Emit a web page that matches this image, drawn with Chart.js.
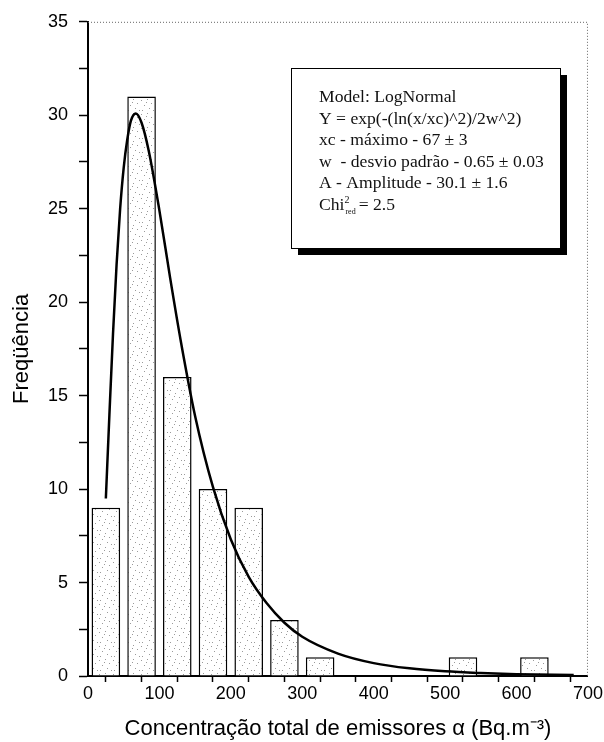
<!DOCTYPE html>
<html>
<head>
<meta charset="utf-8">
<script src="https://cdn.jsdelivr.net/npm/chart.js@4.4.0/dist/chart.umd.min.js"></script>
<style>
  body { margin: 0; background: #fff; }
</style>
</head>
<body>
<canvas id="myChart" width="604" height="742"></canvas>
<script>
// histogram bins (centre of each 50-wide class) and counts
const binCenters = [25, 75, 125, 175, 225, 275, 325, 525, 625];
const counts = [9, 31, 16, 10, 9, 3, 1, 1, 1];

// LogNormal fit curve
const fitX = [25, 30, 35, 40, 45, 50, 55, 60, 67, 75, 85, 100, 115, 130, 150, 175, 200, 225, 250, 275, 300, 350, 400, 450, 500, 550, 600, 680];
const fitY = [9.5, 14.0, 18.3, 22.0, 25.0, 27.2, 28.7, 29.7, 30.1, 29.6, 28.1, 24.9, 21.3, 17.9, 13.9, 10.1, 7.3, 5.3, 3.9, 2.85, 2.1, 1.2, 0.69, 0.41, 0.25, 0.16, 0.1, 0.05];

const boxLines = [
  'Model: LogNormal',
  'Y = exp(-(ln(x/xc)^2)/2w^2)',
  'xc - máximo - 67 ± 3',
  'w  - desvio padrão - 0.65 ± 0.03',
  'A - Amplitude - 30.1 ± 1.6'
];

// stipple fill for the bars
function makeStipple() {
  let c = document.createElement('canvas');
  c.width = 14; c.height = 14;
  let g = c.getContext('2d');
  g.fillStyle = '#fff';
  g.fillRect(0, 0, 14, 14);
  g.fillStyle = '#9a9a9a';
  [[1, 2], [7, 1], [11, 5], [4, 7], [9, 10], [2, 12], [13, 12], [6, 4]].forEach(function(p) {
    g.fillRect(p[0], p[1], 1, 1);
  });
  return g.createPattern(c, 'repeat');
}

const framePlugin = {
  id: 'frame',
  afterDraw(chart) {
    const ctx = chart.ctx;
    const a = chart.chartArea;
    ctx.save();
    ctx.strokeStyle = '#666';
    ctx.lineWidth = 1;
    ctx.setLineDash([1, 2]);
    ctx.beginPath();
    ctx.moveTo(a.left, a.top + 0.5);
    ctx.lineTo(a.right - 0.5, a.top + 0.5);
    ctx.lineTo(a.right - 0.5, a.bottom);
    ctx.stroke();
    ctx.restore();
  }
};

// text drawn a bit wider than the font, like the scanned original
function wideText(ctx, t, x, y) {
  ctx.save();
  ctx.translate(x, y);
  ctx.scale(1.1, 1);
  ctx.fillText(t, 0, 0);
  ctx.restore();
  return ctx.measureText(t).width * 1.1;
}

const boxPlugin = {
  id: 'fitbox',
  afterDatasetsDraw(chart) {
    const ctx = chart.ctx;
    const left = 291, top = 68, w = 269, h = 180;
    ctx.save();
    ctx.fillStyle = '#000';
    ctx.fillRect(left + 7, top + 7, w, h);
    ctx.fillStyle = '#fff';
    ctx.fillRect(left, top, w, h);
    ctx.strokeStyle = '#000';
    ctx.lineWidth = 1;
    ctx.strokeRect(left + 0.5, top + 0.5, w, h);

    ctx.fillStyle = '#111';
    ctx.font = '16px "Liberation Serif"';
    ctx.textBaseline = 'alphabetic';
    let y = top + 34;
    boxLines.forEach(function(t) {
      wideText(ctx, t, left + 28, y);
      y += 21.6;
    });
    // Chi^2_red = 2.5
    let x = left + 28;
    x += wideText(ctx, 'Chi', x, y);
    ctx.font = '10px "Liberation Serif"';
    ctx.fillText('2', x, y - 7);
    ctx.font = '8px "Liberation Serif"';
    ctx.fillText('red', x + 1, y + 4);
    x += ctx.measureText('red').width + 4;
    ctx.font = '16px "Liberation Serif"';
    wideText(ctx, '= 2.5', x, y);
    ctx.restore();
  }
};

const axisFont = { family: '"Liberation Sans", Arial, sans-serif', size: 18 };
const titleFont = { family: '"Liberation Sans", Arial, sans-serif', size: 22 };

let ctx = document.getElementById('myChart');
let myChart = new Chart(ctx, {
  type: 'bar',
  data: {
    datasets: [
      {
        type: 'line',
        data: fitX.map(function(x, i) { return { x: x, y: fitY[i] }; }),
        borderColor: '#000',
        borderWidth: 2.5,
        pointRadius: 0,
        cubicInterpolationMode: 'monotone',
        fill: false,
        order: 0
      },
      {
        type: 'bar',
        data: binCenters.map(function(x, i) { return { x: x, y: counts[i] }; }),
        backgroundColor: makeStipple(),
        borderColor: '#000',
        borderWidth: 1.5,
        borderSkipped: 'bottom',
        barPercentage: 1.0,
        categoryPercentage: 0.8,
        order: 1
      }
    ]
  },
  options: {
    responsive: false,
    animation: false,
    layout: { padding: { left: 0, right: 16, top: 20, bottom: 0 } },
    plugins: {
      legend: { display: false },
      tooltip: { enabled: false }
    },
    scales: {
      x: {
        type: 'linear',
        min: 0,
        max: 700,
        offset: false,
        ticks: {
          stepSize: 50,
          autoSkip: false,
          maxRotation: 0,
          padding: 1,
          color: '#000',
          font: axisFont,
          callback: function(v) { return v % 100 === 0 ? v : ''; }
        },
        grid: { drawOnChartArea: false, tickLength: 6, tickWidth: 1.5, tickColor: '#000' },
        border: { color: '#000', width: 2 },
        title: {
          display: true,
          text: 'Concentração total de emissores α (Bq.m⁻³)',
          color: '#000',
          font: titleFont,
          padding: { top: 0, bottom: 0 }
        },
        afterFit: function(s) { s.height = 66; }
      },
      y: {
        min: 0,
        max: 35,
        ticks: {
          stepSize: 2.5,
          autoSkip: false,
          padding: 11,
          color: '#000',
          font: axisFont,
          callback: function(v) { return v % 5 === 0 ? v : ''; }
        },
        grid: { drawOnChartArea: false, tickLength: 9, tickWidth: 1.5, tickColor: '#000' },
        border: { color: '#000', width: 2 },
        title: {
          display: true,
          text: 'Freqüência',
          color: '#000',
          font: titleFont,
          padding: { top: 9, bottom: 0 }
        },
        afterFit: function(s) { s.width = 88; }
      }
    }
  },
  plugins: [framePlugin, boxPlugin]
});
</script>
</body>
</html>
